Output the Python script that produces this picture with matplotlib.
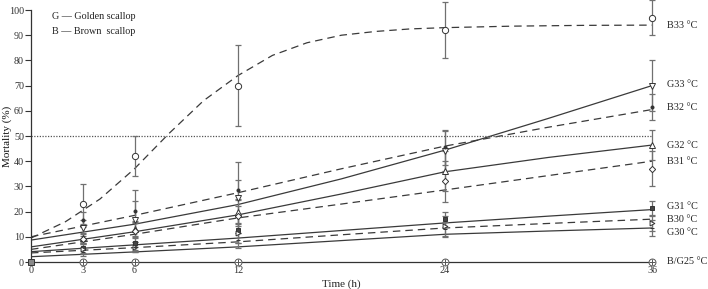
import matplotlib
matplotlib.use("Agg")
import matplotlib.pyplot as plt

plt.rcParams['font.family'] = ['Liberation Serif', 'DejaVu Serif']

# ---- data ----
times = [0, 3, 6, 12, 24, 36]
xtick_labels = ["0", "3", "6", "12", "24", "36"]

b33_mean = [0, 23, 42, 70, 92, 97]
b33_err = [0, 8, 8, 16, 11, 7]
g33_mean = [0, 13.5, 16.7, 25.5, 44, 70]
g33_err = [0, 3, 12, 14, 8, 10]
b32_mean = [0, 16.7, 20.2, 28.6, 45.5, 61.5]
b32_err = [0, 3, 4, 4, 7, 5]
g32_mean = [0, 9.5, 13, 20, 36, 46.4]
g32_err = [0, 2, 3, 5, 8, 6]
b31_mean = [0, 9, 12.4, 18.3, 32, 37]
b31_err = [0, 2, 3, 4, 8, 7]
g31_mean = [0, 5.6, 7.5, 12.7, 17, 21.4]
g31_err = [0, 2, 3, 5, 3, 3]
b30_mean = [0, 5, 6, 11.5, 14.3, 15.5]
b30_err = [0, 2, 2, 4, 4, 3]
g30_mean = [0, 4, 6, 8.7, 13, 13.5]
g30_err = [0, 1.5, 2, 3, 3, 3]
bg25_mean = [0, 0, 0, 0, 0, 0]

# fitted curves
fit_t_b33 = [0, 2, 4, 6, 8, 10, 12, 14, 16, 18, 20, 22, 24, 28, 32, 36]
fit_b33 = [9.5, 16, 25, 37, 51, 64, 74, 82, 87, 90, 91.5, 92.5, 93, 93.6, 93.9, 94]
fit_t = [0, 6, 12, 18, 24, 30, 36]
fit_g33 = [8.7, 15, 22.8, 33, 44.4, 57, 70]
fit_b32 = [10, 18.5, 27.5, 37, 46, 53.5, 60.5]
fit_g32 = [6, 12, 18.7, 27, 35.8, 41.5, 46.4]
fit_b31 = [5, 11, 17.5, 23, 28.6, 34.3, 40]
fit_g31 = [4.1, 6.8, 9.5, 12.5, 15.5, 18.2, 20.8]
fit_b30 = [3.6, 5.7, 8, 10.8, 13.5, 15.3, 17]
fit_g30 = [2.1, 4, 6, 8.5, 11, 12.3, 13.5]

end_labels = ["B33 °C", "G33 °C", "B32 °C", "G32 °C", "B31 °C", "G31 °C", "B30 °C", "G30 °C", "B/G25 °C"]
end_label_y = [93.7, 70.6, 61.5, 46.4, 40, 22.2, 16.7, 11.9, 0]

# ---- figure ----
W, H = 708, 289
fig = plt.figure(figsize=(W / 100, H / 100), dpi=100)
ax = fig.add_axes([31 / W, (H - 262) / H, (652 - 31) / W, (262 - 10) / H])
ax.set_xlim(0, 36)
ax.set_ylim(0, 100)

line_col = "#3a3a3a"
err_col = "#707070"
dash = (0, (6, 4))

# fitted lines
ax.plot(fit_t_b33, fit_b33, ls=dash, color=line_col, lw=0.9)
ax.plot(fit_t, fit_g33, ls='-', color=line_col, lw=0.9)
ax.plot(fit_t, fit_b32, ls=dash, color=line_col, lw=0.9)
ax.plot(fit_t, fit_g32, ls='-', color=line_col, lw=0.9)
ax.plot(fit_t, fit_b31, ls=dash, color=line_col, lw=0.9)
ax.plot(fit_t, fit_g31, ls='-', color=line_col, lw=0.9)
ax.plot(fit_t, fit_b30, ls=dash, color=line_col, lw=0.9)
ax.plot(fit_t, fit_g30, ls='-', color=line_col, lw=0.9)

# 50% dotted reference
ax.axhline(50, color="#555555", ls=(0, (1, 1.2)), lw=0.9)

# error bars + markers
specs = [
    (b33_mean, b33_err, 'o', 'white', 4.5),
    (g33_mean, g33_err, 'v', 'white', 4.5),
    (b32_mean, b32_err, 'o', '#333333', 2.2),
    (g32_mean, g32_err, '^', 'white', 4.5),
    (b31_mean, b31_err, 'D', 'white', 3.2),
    (g31_mean, g31_err, 's', '#444444', 2.2),
    (b30_mean, b30_err, '>', 'white', 3.5),
    (g30_mean, g30_err, '_', '#444444', 3.5),
]
for m, e, mk, fc, ms in specs:
    ax.errorbar(times[1:], m[1:], yerr=e[1:], fmt='none', ecolor=err_col,
                elinewidth=0.9, capsize=2.5, capthick=0.9, clip_on=False, zorder=3)
    ax.plot(times[1:], m[1:], ls='none', marker=mk, mfc=fc, mec='#333333',
            mew=0.7, ms=ms, clip_on=False, zorder=4)
ax.plot(times[1:], bg25_mean[1:], ls='none', marker='o', mfc='white', mec='#555555',
        mew=0.7, ms=5, clip_on=False, zorder=4)
ax.plot(times[1:], bg25_mean[1:], ls='none', marker='+', mec='#555555',
        mew=0.7, ms=5, clip_on=False, zorder=5)
ax.plot([times[0]], [bg25_mean[0]], ls='none', marker='s', mfc='#888888', mec='#333333',
        mew=0.7, ms=4.5, clip_on=False, zorder=5)

# end labels
for lab, yv in zip(end_labels, end_label_y):
    ax.text(36.85, yv, lab, ha='left', va='center', fontsize=7.3, color='#222222',
            clip_on=False)

# legend-like notes
ax.text(1.2, 97.5, "G — Golden scallop", fontsize=7.3, color='#222222', va='center')
ax.text(1.2, 91.5, "B — Brown  scallop", fontsize=7.3, color='#222222', va='center')

# axes styling
for s in ['top', 'right']:
    ax.spines[s].set_visible(False)
ax.spines['left'].set_color('#333333')
ax.spines['bottom'].set_color('#333333')
ax.spines['left'].set_linewidth(0.9)
ax.spines['bottom'].set_linewidth(0.9)
ax.set_xticks(times)
ax.set_xticklabels(xtick_labels)
ax.set_yticks(range(0, 101, 10))
ax.tick_params(axis='y', direction='out', length=4, width=0.8, labelsize=7.3, pad=1,
               colors='#333333')
ax.tick_params(axis='x', direction='out', length=2, width=0.8, labelsize=7.3, pad=1,
               colors='#333333')
ax.set_xlabel("Time (h)", fontsize=8, color='#222222')
ax.xaxis.set_label_coords(0.5, -0.07)
ax.set_ylabel("Mortality (%)", fontsize=8, color='#111111')
ax.yaxis.set_label_coords(-0.031, 0.5)

fig.savefig("out.png", dpi=100)
